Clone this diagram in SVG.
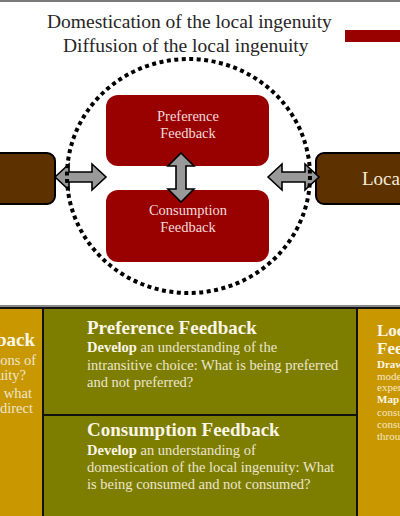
<svg xmlns="http://www.w3.org/2000/svg" width="400" height="516" viewBox="0 0 400 516">
<style>
text{font-family:"Liberation Serif","DejaVu Serif",serif}
.title{font-size:19.5px;fill:#262626}
.rb{fill:#990000}
.rt{font-size:14.5px;fill:#f2dcdc;text-anchor:middle}
.brown{fill:#5e3200;stroke:#000;stroke-width:2}
.arr{fill:#999;stroke:#000;stroke-width:1.6;stroke-linejoin:miter}
.gold{fill:#c99700;stroke:#111;stroke-width:2}
.olive{fill:#7d7d00;stroke:#111;stroke-width:2}
.h{font-size:19px;font-weight:bold;fill:#fbf6e6}
.h2{font-size:17px;font-weight:bold;fill:#fbf6e6}
.b{font-size:14.5px;fill:#ece6cf}
.bb{font-weight:bold;fill:#fbf6e6}
.s{font-size:11px;fill:#f3e7c8}
</style>
<rect x="0" y="0" width="400" height="2" fill="#7a7a7a"/>
<g id="titles">
<text class="title" x="47" y="28">Domestication of the local ingenuity</text>
<text class="title" x="63" y="52">Diffusion of the local ingenuity</text>
</g>
<rect id="legend-bar" x="345" y="30" width="60" height="12" fill="#990000"/>
<g id="left-box"><rect class="brown" x="-10" y="153" width="65" height="51" rx="8"/></g>
<g id="right-box"><rect class="brown" x="316" y="153" width="100" height="51" rx="8"/>
<text x="362" y="185" font-size="19" fill="#f6ecd8">Local</text></g>
<g id="preference"><rect class="rb" x="106" y="95" width="163" height="71" rx="12"/>
<text class="rt" x="188" y="121">Preference</text><text class="rt" x="188" y="138">Feedback</text></g>
<g id="consumption"><rect class="rb" x="106" y="190" width="163" height="72" rx="12"/>
<text class="rt" x="188" y="215">Consumption</text><text class="rt" x="188" y="232">Feedback</text></g>
<g id="connectors">
<path class="arr" d="M55,177 L69,164 L69,172 L92,172 L92,164 L106,177 L92,190 L92,182 L69,182 L69,190 Z"/>
<path class="arr" d="M268,177 L282,164 L282,172 L305,172 L305,164 L319,177 L305,190 L305,182 L282,182 L282,190 Z"/>
<path class="arr" d="M181,153 L194,166 L186,166 L186,189 L194,189 L181,202 L168,189 L176,189 L176,166 L168,166 Z"/>
</g>
<ellipse id="boundary" cx="188.5" cy="176" rx="121.5" ry="117" fill="none" stroke="#000" stroke-width="4" stroke-dasharray="4 3.5"/>
<rect x="0" y="305" width="400" height="2" fill="#8a8a8a"/>
<g id="left-panel"><rect class="gold" x="-10" y="308" width="53" height="215"/>
<text class="h" x="35" y="346" text-anchor="end">Feedback</text>
<text class="b" x="36" y="365" text-anchor="end">questions of</text>
<text class="b" x="26" y="380" text-anchor="end">ingenuity?</text>
<text class="b" x="32" y="398" text-anchor="end">what</text>
<text class="b" x="33" y="413" text-anchor="end">direct</text>
</g>
<g id="pref-panel"><rect class="olive" x="43" y="308" width="314" height="107"/>
<text class="h" x="87" y="334">Preference Feedback</text>
<text class="b" x="87" y="352"><tspan class="bb">Develop</tspan> an understanding of the</text>
<text class="b" x="87" y="370">intransitive choice: What is being preferred</text>
<text class="b" x="87" y="387">and not preferred?</text>
</g>
<g id="cons-panel"><rect class="olive" x="43" y="415" width="314" height="108"/>
<text class="h" x="87" y="436">Consumption Feedback</text>
<text class="b" x="87" y="455"><tspan class="bb">Develop</tspan> an understanding of</text>
<text class="b" x="87" y="472">domestication of the local ingenuity: What</text>
<text class="b" x="87" y="489">is being consumed and not consumed?</text>
</g>
<g id="right-panel"><rect class="gold" x="357" y="308" width="53" height="215"/>
<text class="h2" x="377" y="336">Local</text>
<text class="h2" x="377" y="354">Feedback</text>
<text class="s" x="377" y="368"><tspan class="bb">Draw</tspan></text>
<text class="s" x="377" y="380">model</text>
<text class="s" x="377" y="391">experience</text>
<text class="s" x="377" y="403"><tspan class="bb">Map</tspan></text>
<text class="s" x="377" y="416">consumer</text>
<text class="s" x="377" y="428">consumption</text>
<text class="s" x="377" y="440">through</text>
</g>
</svg>
